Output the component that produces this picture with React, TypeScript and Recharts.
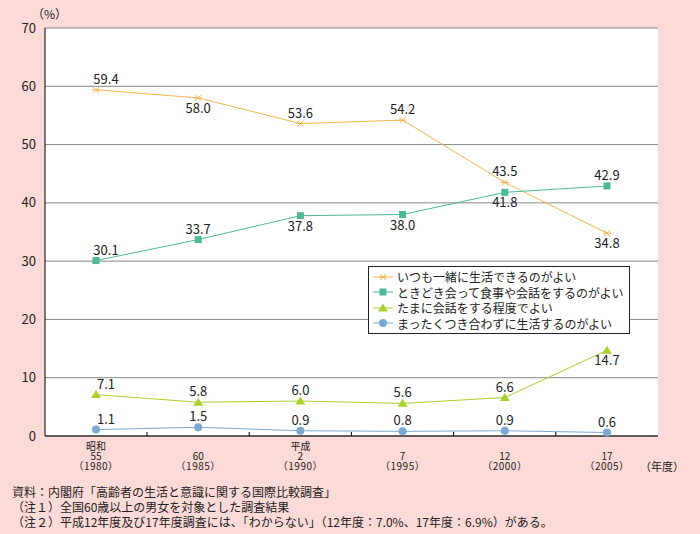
import React from 'react'
import {
  LineChart,
  Line,
  XAxis,
  YAxis,
  CartesianGrid,
} from 'recharts'

const years = ['1980', '1985', '1990', '1995', '2000', '2005']
const eras = ['昭和', '', '平成', '', '', '']
const eraYears = ['55', '60', '2', '7', '12', '17']

const together = [59.4, 58.0, 53.6, 54.2, 43.5, 34.8]
const sometimes = [30.1, 33.7, 37.8, 38.0, 41.8, 42.9]
const occasionally = [7.1, 5.8, 6.0, 5.6, 6.6, 14.7]
const never = [1.1, 1.5, 0.9, 0.8, 0.9, 0.6]

const yTicks = [0, 10, 20, 30, 40, 50, 60, 70]

// where each value label sits relative to its point
const togetherPos = ['top', 'bottom', 'top', 'top', 'top', 'bottom']
const sometimesPos = ['top', 'top', 'bottom', 'bottom', 'bottom', 'top']
const occasionallyPos = ['top', 'top', 'top', 'top', 'top', 'bottom']
const neverPos = ['top', 'top', 'top', 'top', 'top', 'top']

const data = years.map((y, i) => ({
  year: y,
  together: together[i],
  sometimes: sometimes[i],
  occasionally: occasionally[i],
  never: never[i],
}))

const FONT = '"Noto Sans CJK JP", "Noto Sans", sans-serif'
const PAD = 51

type MarkerKind = 'cross' | 'square' | 'triangle' | 'circle'

interface SeriesDef {
  key: string
  name: string
  color: string
  marker: MarkerKind
  pos: string[]
}

const series: SeriesDef[] = [
  { key: 'together', name: 'いつも一緒に生活できるのがよい', color: '#F5B64C', marker: 'cross', pos: togetherPos },
  { key: 'sometimes', name: 'ときどき会って食事や会話をするのがよい', color: '#4DB896', marker: 'square', pos: sometimesPos },
  { key: 'occasionally', name: 'たまに会話をする程度でよい', color: '#A9D12E', marker: 'triangle', pos: occasionallyPos },
  { key: 'never', name: 'まったくつき合わずに生活するのがよい', color: '#7BA8D3', marker: 'circle', pos: neverPos },
]

function Marker({ kind, cx, cy, color }: { kind: MarkerKind; cx: number; cy: number; color: string }) {
  if (kind === 'cross') {
    return (
      <g stroke={color} strokeWidth={1}>
        <line x1={cx - 3} y1={cy - 3} x2={cx + 3} y2={cy + 3} />
        <line x1={cx - 3} y1={cy + 3} x2={cx + 3} y2={cy - 3} />
        <line x1={cx - 4} y1={cy} x2={cx + 4} y2={cy} />
      </g>
    )
  }
  if (kind === 'square') {
    return <rect x={cx - 3.5} y={cy - 3.5} width={7} height={7} fill={color} />
  }
  if (kind === 'triangle') {
    return <polygon points={`${cx},${cy - 4.5} ${cx + 5},${cy + 3.5} ${cx - 5},${cy + 3.5}`} fill={color} />
  }
  return <circle cx={cx} cy={cy} r={4} fill={color} />
}

function makeDot(s: SeriesDef) {
  return (props: any) => {
    const { cx, cy, index } = props
    if (cx == null || cy == null) return <g key={`d-${s.key}-${index}`} />
    return (
      <g key={`d-${s.key}-${index}`}>
        <Marker kind={s.marker} cx={cx} cy={cy} color={s.color} />
      </g>
    )
  }
}

function makeLabel(s: SeriesDef) {
  return (props: any) => {
    const { x, y, value, index } = props
    const below = s.pos[index] === 'bottom'
    const dx = index === 0 ? 10 : 0
    return (
      <text
        key={`l-${s.key}-${index}`}
        x={x + dx}
        y={below ? y + 15 : y - 6}
        textAnchor="middle"
        fontSize={13}
        fill="#222"
        fontFamily={FONT}
      >
        {Number(value).toFixed(1)}
      </text>
    )
  }
}

function XTick(props: any) {
  const { x, y, index } = props
  const axisY = y
  return (
    <g>
      {index < years.length - 1 && (
        <line x1={x + PAD} x2={x + PAD} y1={axisY} y2={axisY - 4} stroke="#000" />
      )}
      <g fontSize={10} fill="#222" fontFamily={FONT} textAnchor="middle">
        {eras[index] && <text x={x} y={axisY + 14}>{eras[index]}</text>}
        <text x={x} y={axisY + 24}>{eraYears[index]}</text>
        <text x={x} y={axisY + 34} letterSpacing={0.5}>（{years[index]}）</text>
      </g>
    </g>
  )
}

function LegendBox() {
  return (
    <div
      style={{
        position: 'absolute',
        left: 368,
        top: 266,
        background: '#fff',
        border: '1px solid #222',
        padding: '2px 6px 2px 4px',
        fontFamily: FONT,
        fontSize: 12,
        color: '#222',
        lineHeight: '15.5px',
        whiteSpace: 'nowrap',
      }}
    >
      {series.map((s) => (
        <div key={s.key} style={{ display: 'flex', alignItems: 'center' }}>
          <svg width={20} height={12} style={{ marginRight: 4 }}>
            <line x1={0} x2={20} y1={6} y2={6} stroke={s.color} />
            <Marker kind={s.marker} cx={10} cy={6} color={s.color} />
          </svg>
          <span>{s.name}</span>
        </div>
      ))}
    </div>
  )
}

export default function App() {
  return (
    <div
      style={{
        position: 'absolute',
        left: 0,
        top: 0,
        width: 700,
        height: 534,
        background: '#FCDAD7',
        fontFamily: FONT,
        color: '#222',
      }}
    >
      <div style={{ position: 'absolute', left: 32, top: 5, fontSize: 12 }}>（%）</div>
      <div style={{ position: 'absolute', left: 640, top: 458, fontSize: 11 }}>（年度）</div>
      <LineChart
        width={700}
        height={534}
        data={data}
        margin={{ top: 28, right: 42, left: 0, bottom: 58 }}
      >
        <CartesianGrid vertical={false} stroke="#888" fill="#fff" />
        <XAxis
          dataKey="year"
          padding={{ left: PAD, right: PAD }}
          height={40}
          axisLine={{ stroke: '#000' }}
          tickLine={false}
          tickSize={0}
          tickMargin={0}
          interval={0}
          tick={<XTick />}
        />
        <XAxis xAxisId="top" dataKey="year" orientation="top" height={0} axisLine={{ stroke: '#000' }} tick={false} tickLine={false} />
        <YAxis
          domain={[0, 70]}
          ticks={yTicks}
          width={45}
          axisLine={{ stroke: '#000' }}
          tickLine={false}
          tickSize={0}
          tickMargin={9}
          tick={{ fontSize: 13, fill: '#222', fontFamily: FONT }}
        />
        <YAxis yAxisId="right" orientation="right" width={0} domain={[0, 70]} axisLine={{ stroke: '#000' }} tick={false} tickLine={false} />
        {series.map((s) => (
          <Line
            key={s.key}
            dataKey={s.key}
            name={s.name}
            stroke={s.color}
            strokeWidth={1}
            type="linear"
            dot={makeDot(s)}
            activeDot={false}
            label={makeLabel(s)}
            isAnimationActive={false}
          />
        ))}
      </LineChart>
      <LegendBox />
      <div style={{ position: 'absolute', left: 12, top: 484, fontSize: 12, lineHeight: '15px' }}>
        <div>資料：内閣府「高齢者の生活と意識に関する国際比較調査」</div>
        <div>（注１）全国60歳以上の男女を対象とした調査結果</div>
        <div>（注２）平成12年度及び17年度調査には、「わからない」（12年度：7.0%、17年度：6.9%）がある。</div>
      </div>
    </div>
  )
}
